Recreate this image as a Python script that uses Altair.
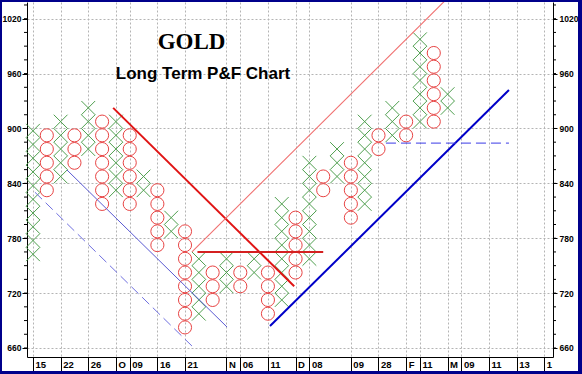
import altair as alt
import pandas as pd

# ---------------- data ----------------
BOX = 15
col_index = list(range(1, 32))
col_kind = ["X", "O", "X", "O", "X", "O", "X", "O", "X", "O", "X", "O", "X", "O", "X", "O",
            "X", "O", "X", "O", "X", "O", "X", "O", "X", "O", "X", "O", "X", "O", "X"]
col_low = [762.5, 832.5, 847.5, 862.5, 877.5, 817.5, 832.5, 817.5, 832.5, 772.5, 787.5,
           682.5, 697.5, 712.5, 727.5, 727.5, 742.5, 697.5, 712.5, 742.5, 757.5, 832.5,
           847.5, 802.5, 817.5, 877.5, 892.5, 892.5, 907.5, 907.5, 922.5]
col_high = [907.5, 892.5, 907.5, 892.5, 922.5, 907.5, 907.5, 892.5, 847.5, 832.5, 802.5,
            787.5, 757.5, 742.5, 757.5, 742.5, 757.5, 742.5, 817.5, 802.5, 862.5, 847.5,
            877.5, 862.5, 907.5, 892.5, 922.5, 907.5, 997.5, 982.5, 937.5]

tick_cols = [1, 3, 5, 7, 8, 10, 12, 15, 16, 18, 20, 21, 24, 26, 28, 29, 31, 32, 34, 36, 38]
tick_labels = ["15", "22", "26", "O", "09", "16", "21", "N", "06", "11", "D", "08", "09",
               "28", "F", "11", "M", "09", "11", "13", "1"]
y_major = [660, 720, 780, 840, 900, 960, 1020]
y_minor = [v for v in range(660, 1036, 15)]

# trend lines: start col, start value, end col, end value
solid_x1 = [6.8, 12.5, 12.9, 3.46, 18.15]
solid_y1 = [922.5, 765, 765, 854.6, 684]
solid_x2 = [19.9, 30.9, 22.0, 15.04, 35.44]
solid_y2 = [727.5, 1041, 765, 682.9, 942]
solid_color = ["#e01414", "#f07070", "#d42020", "#5a5ad2", "#0000c8"]
solid_width = [2, 1.1, 2, 1, 2]

dash_x1 = [1.14, 26.54]
dash_y1 = [830.3, 884]
dash_x2 = [12.5, 35.44]
dash_y2 = [662.2, 884]
dash_color = ["#7070e0", "#3a3ae6"]

title_main = ["GOLD"]
title_sub = ["Long Term P&F Chart"]

# ---------------- tables ----------------
rows = []
for i, k, lo, hi in zip(col_index, col_kind, col_low, col_high):
    v = lo
    while v <= hi + 1e-6:
        rows.append({"col": i, "val": v, "kind": k})
        v += BOX
boxes = pd.DataFrame(rows)
xs = boxes[boxes.kind == "X"]
os_ = boxes[boxes.kind == "O"]

solid = pd.DataFrame({"col": solid_x1, "y1": solid_y1, "x2": solid_x2, "y2": solid_y2,
                      "c": solid_color, "w": solid_width})
dashed = pd.DataFrame({"col": dash_x1, "y1": dash_y1, "x2": dash_x2, "y2": dash_y2,
                       "c": dash_color})
minor = pd.DataFrame({"v": y_minor})

W, H = 526, 355
xscale = alt.Scale(domain=[0.566, 38.627], nice=False, zero=False)
yscale = alt.Scale(domain=[650.15, 1038.26], nice=False, zero=False)

label_expr = ("[" + ",".join("'%s'" % l for l in tick_labels) + "][indexof(["
              + ",".join(str(c) for c in tick_cols) + "], datum.value)]")


def x_axis():
    return alt.Axis(values=tick_cols, labelExpr=label_expr, title=None, orient="bottom",
                    tickSize=14, tickColor="black", domainColor="black",
                    labelAlign="left", labelBaseline="top", labelPadding=-12, labelOffset=2,
                    labelFont="Liberation Sans", labelFontSize=9.5, labelFontWeight="bold",
                    labelColor="black", labelOverlap=False, labelFlush=False,
                    grid=True, gridColor="#b4b4b4", gridDash=[2, 2])


y_left = alt.Axis(values=y_major, format="d", title=None, orient="left", tickSize=5,
                  tickColor="black", domainColor="black", labelPadding=1,
                  labelFont="Liberation Sans", labelFontSize=8.5, labelFontWeight="bold",
                  labelColor="black", grid=True, gridColor="#b4b4b4", gridDash=[2, 2],
                  labelFlush=False)
y_right = alt.Axis(values=y_major, format="d", title=None, orient="right", tickSize=4,
                   tickColor="black", domainColor="black", labelPadding=2,
                   labelFont="Liberation Sans", labelFontSize=8.5, labelFontWeight="bold",
                   labelColor="black", grid=False, labelFlush=False)

x_path = "M-1,-1L1,1M-1,1L1,-1"

xs_layer = alt.Chart(xs).mark_point(shape=x_path, size=190, filled=False,
                                    color="#4f9f4f", strokeWidth=1, opacity=1).encode(
    x=alt.X("col:Q", scale=xscale, axis=x_axis()),
    y=alt.Y("val:Q", scale=yscale, axis=y_left),
)
os_layer = alt.Chart(os_).mark_point(shape="circle", size=172, filled=False,
                                     color="#e84444", strokeWidth=1, opacity=1).encode(
    x=alt.X("col:Q", scale=xscale, axis=x_axis()),
    y=alt.Y("val:Q", scale=yscale, axis=y_right),
)

solid_layer = alt.Chart(solid).mark_rule(clip=True).encode(
    x=alt.X("col:Q", scale=xscale, axis=x_axis()), x2="x2:Q",
    y=alt.Y("y1:Q", scale=yscale, axis=None), y2="y2:Q",
    color=alt.Color("c:N", scale=None),
    strokeWidth=alt.StrokeWidth("w:Q", scale=None),
)
dash_layer = alt.Chart(dashed).mark_rule(clip=True, strokeDash=[10, 5], strokeWidth=1).encode(
    x=alt.X("col:Q", scale=xscale, axis=x_axis()), x2="x2:Q",
    y=alt.Y("y1:Q", scale=yscale, axis=None), y2="y2:Q",
    color=alt.Color("c:N", scale=None),
)

minor_left = alt.Chart(minor).mark_rule(color="black", strokeWidth=1).encode(
    y=alt.Y("v:Q", scale=yscale, axis=None), x=alt.value(-3), x2=alt.value(0))
minor_right = alt.Chart(minor).mark_rule(color="black", strokeWidth=1).encode(
    y=alt.Y("v:Q", scale=yscale, axis=None), x=alt.value(W), x2=alt.value(W + 3))

t1 = alt.Chart(pd.DataFrame({"t": title_main})).mark_text(
    font="Liberation Serif", fontSize=23, fontWeight="bold", color="black",
    align="center", baseline="alphabetic").encode(
    text="t:N", x=alt.value(164.5), y=alt.value(47))
t2 = alt.Chart(pd.DataFrame({"t": title_sub})).mark_text(
    font="Liberation Sans", fontSize=17, fontWeight="bold", color="black",
    align="center", baseline="alphabetic").encode(
    text="t:N", x=alt.value(176), y=alt.value(77))

one = pd.DataFrame({"a": [0]})
FRAME = "#00008b"
fl = alt.Chart(one).mark_rect(color=FRAME).encode(
    x=alt.value(-27), x2=alt.value(-25), y=alt.value(-2), y2=alt.value(372))
ft = alt.Chart(one).mark_rect(color=FRAME).encode(
    x=alt.value(-27), x2=alt.value(555), y=alt.value(-2), y2=alt.value(0))
fr = alt.Chart(one).mark_rect(color=FRAME).encode(
    x=alt.value(551), x2=alt.value(555), y=alt.value(-2), y2=alt.value(372))
fb = alt.Chart(one).mark_rect(color=FRAME).encode(
    x=alt.value(-27), x2=alt.value(555), y=alt.value(369), y2=alt.value(372))

chart = alt.layer(
    xs_layer, os_layer, solid_layer, dash_layer, minor_left, minor_right, t1, t2,
    fl, ft, fr, fb
).properties(
    width=W, height=H,
    autosize=alt.AutoSizeParams(type="none"),
    padding={"left": 27, "top": 2, "right": 29, "bottom": 17},
    background="white",
).configure_view(stroke=None)

chart.save("out.html", embed_options={"renderer": "svg", "actions": False})
